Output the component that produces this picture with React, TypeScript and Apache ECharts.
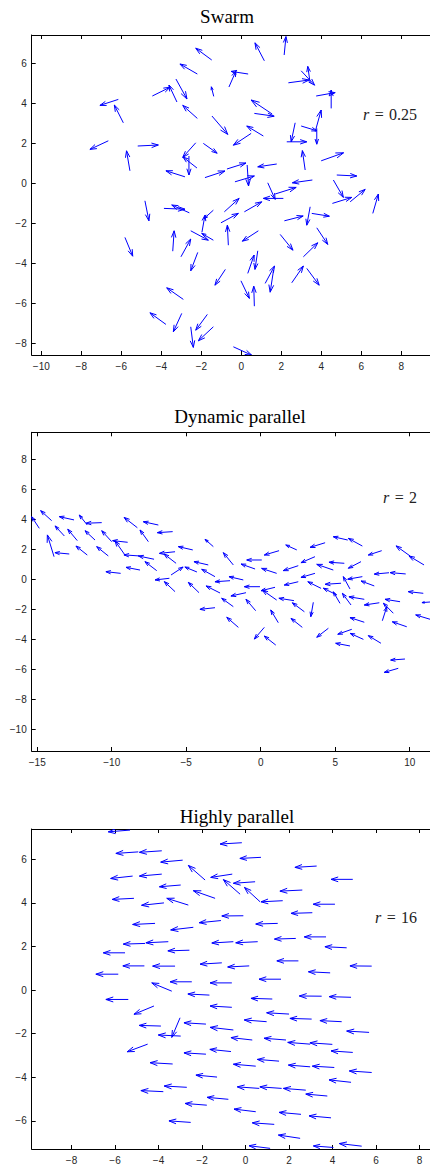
import React, { useEffect, useRef } from "react";
import * as echarts from "echarts";

// [x, y, u, v] : tail position and vector (data units)
const swarmArrows: number[][] = [
  [-1.48, 6.17, -0.8, 0.59], [-2.2, 5.47, -0.87, 0.5], [-4.45, 4.37, 0.89, 0.44], [-3.22, 4.07, -0.4, 0.85],
  [-3.27, 5.22, 0.55, -1.0], [-2.2, 3.25, -0.73, 0.65], [-6.15, 4.2, -0.92, -0.3], [-5.9, 3.03, -0.45, 0.89],
  [-6.65, 2.13, -0.92, -0.43], [-5.57, 0.63, -0.17, 1.0], [-5.18, 1.87, 1.03, 0.05], [-2.28, 2.03, -0.65, -0.73],
  [-2.62, 1.37, 0.0, -0.95], [-2.22, 0.77, -0.7, 0.55], [-2.82, 0.33, -0.95, 0.3], [-1.9, 2.0, 0.69, -0.49],
  [-1.38, 4.35, -0.12, 0.48], [1.15, 6.13, -0.47, 0.9], [2.14, 6.42, 0.09, 0.92], [-0.62, 4.82, 0.35, 0.8],
  [0.34, 5.47, -0.85, 0.13], [2.35, 5.03, 1.04, 0.14], [2.99, 5.63, 0.67, -0.72], [3.44, 5.02, -0.12, 0.83],
  [3.74, 4.37, 0.95, 0.17], [4.49, 3.75, 0.0, 0.92], [1.54, 3.47, -1.05, 0.7], [0.65, 3.5, 0.99, -0.14],
  [-1.47, 3.37, 0.79, -0.92], [1.1, 2.37, -0.83, 0.5], [0.49, 2.5, -0.89, -0.59], [2.69, 3.03, -0.2, -0.95],
  [2.27, 2.08, 1.0, 0.0], [2.99, 2.87, 0.79, -0.24], [3.69, 2.58, 0.3, 1.09], [3.77, 2.75, 0.0, -0.79],
  [3.19, 0.67, -0.14, 0.97], [3.99, 1.13, 1.12, 0.4], [4.77, 0.42, 1.0, -0.05], [1.77, 0.97, -0.95, -0.14],
  [-1.82, 0.29, 1.0, 0.33], [-0.72, 0.72, 0.95, 0.3], [0.29, 0.92, 0.07, -1.05], [-0.32, 0.08, 0.97, 0.29],
  [3.55, 0.17, -1.0, -0.14],
  [-4.82, -0.87, 0.2, -1.0], [-3.87, -1.25, 1.05, -0.04], [-2.6, -1.47, -0.88, 0.39], [-1.4, -1.34, -0.47, -0.42],
  [-1.97, -2.44, 0.15, 0.85], [-2.53, -2.37, 0.88, -0.47], [-1.4, -2.84, -0.58, 0.34], [-5.82, -2.7, 0.39, -0.94],
  [-3.43, -3.39, 0.07, 1.02], [-3.02, -3.67, 0.49, 0.89], [-2.18, -3.45, -0.35, -0.92], [-2.9, -5.8, -0.83, 0.58],
  [-3.77, -7.05, -0.8, 0.58], [-2.98, -6.5, -0.42, -0.92], [-1.7, -6.55, -0.58, -0.79], [-2.53, -7.17, 0.13, -1.03],
  [-1.4, -7.17, -0.75, -0.7],
  [1.32, 0.03, 0.37, -0.83], [2.1, -0.75, -1.0, 0.0], [1.69, -0.53, 1.05, 0.33], [4.6, 0.17, 0.5, -0.87],
  [4.55, -1.0, 0.97, 0.3], [5.44, -0.92, 0.75, 0.62], [6.57, -1.5, 0.28, 0.97], [-0.85, -1.42, 0.74, 0.67],
  [0.15, -1.42, 0.87, 0.5], [-1.02, -1.97, 0.87, 0.47], [2.15, -1.87, 0.94, 0.24], [3.44, -1.17, -0.17, -0.92],
  [3.52, -1.5, 0.88, -0.14], [0.85, -2.37, -0.8, -0.52], [-0.65, -3.09, -0.05, 1.0], [1.94, -2.55, 0.64, -0.79],
  [3.77, -2.22, 0.55, -0.83], [3.1, -3.67, 0.72, 0.7], [0.32, -4.5, 0.32, 0.92], [0.82, -3.37, -0.14, -0.93],
  [-0.8, -4.3, -0.52, -0.79], [-0.02, -4.87, 0.42, -0.88], [0.65, -6.14, -0.03, 1.0], [1.19, -5.0, 0.47, 0.87],
  [1.61, -4.34, -0.17, -1.1], [2.52, -4.97, 0.58, 0.84], [3.27, -4.25, 0.62, -0.84], [-0.4, -8.17, 0.92, -0.42],
];

const dynamicArrows: number[][] = [
  [-14.86, 3.41, -0.51, 0.77], [-14.03, 3.92, -0.74, 0.67], [-12.53, 3.97, -0.99, 0.22], [-11.64, 3.63, -0.54, 0.67],
  [-10.67, 3.79, -1.05, -0.04], [-13.18, 2.9, -0.62, 0.67], [-12.31, 2.59, -0.64, 0.76], [-11.12, 2.63, -0.67, 0.62],
  [-13.87, 1.52, -0.45, 1.45], [-12.85, 1.7, -0.96, 0.09], [-11.64, 1.63, -0.76, 0.6], [-10.23, 1.57, -0.78, 0.62],
  [-10.0, 2.52, -0.67, 0.73], [-8.93, 2.48, -1.01, 0.11], [-9.11, 1.63, -0.67, 0.95], [-8.28, 3.45, -0.89, 0.69],
  [-6.87, 3.63, -1.01, 0.22], [-5.91, 3.19, -1.03, -0.07], [-7.54, 2.52, -0.56, 0.78], [-8.15, 1.57, -1.03, 0.07],
  [-7.16, 1.35, -1.05, 0.22], [-5.75, 1.85, -1.05, -0.11], [-5.68, 1.08, -0.81, 0.62], [-4.56, 1.97, -0.97, 0.22],
  [-6.98, 0.59, -0.79, 0.6], [-8.1, 0.63, -0.94, 0.18], [-9.4, 0.41, -0.99, 0.11], [-6.02, 0.3, 0.81, 0.53],
  [-4.28, 0.5, -0.81, 0.33], [-3.52, 0.97, -0.96, 0.22], [-3.18, 2.19, -0.56, 0.49], [-3.07, 0.19, -0.89, 0.49],
  [-6.13, 0.08, -0.96, -0.11], [-5.75, -0.81, -0.72, 0.67], [-4.14, -0.88, -0.72, 0.69], [-2.73, -0.9, -0.94, 0.47],
  [-3.07, -1.88, -1.01, -0.11],
  [2.42, 1.97, -0.74, 0.33], [4.32, 2.45, -1.01, -0.31], [1.23, 1.92, -0.99, -0.29], [0.07, 1.3, -1.01, 0.0],
  [-1.84, 0.97, -0.67, 0.82], [-0.38, 0.7, -0.94, 0.33], [1.07, 0.41, -1.01, 0.33], [2.52, 0.92, -1.01, -0.33],
  [3.64, 1.52, -0.94, -0.4], [4.87, 0.63, -1.11, 0.38], [5.61, 1.08, -1.03, 0.07], [6.73, 1.19, -0.85, -0.44],
  [5.84, 2.63, -0.97, 0.22], [6.82, 2.23, -0.94, 0.51], [8.12, 1.92, -0.9, -0.29], [10.96, 0.97, -1.01, 0.6],
  [10.02, 1.57, -0.94, 0.67], [9.73, 0.37, -1.05, 0.09], [8.61, 0.45, -0.99, -0.09], [3.64, 0.41, -0.94, -0.27],
  [-1.17, -0.03, -0.96, 0.22], [-2.06, -0.08, -1.01, -0.07], [-0.05, -0.48, -1.05, 0.0], [0.96, -0.52, -0.94, -0.23],
  [1.07, -1.37, -0.97, 0.67], [2.52, -0.15, -0.94, -0.22], [4.05, -0.59, -0.89, 0.44], [5.39, -0.25, -1.07, -0.07],
  [5.99, -0.63, -0.45, 0.82], [6.82, 0.19, -0.98, -0.17], [7.62, -0.43, -0.89, 0.33], [10.91, -0.92, -1.01, 0.11],
  [11.36, -1.5, -0.54, -0.04], [11.36, -2.65, -0.96, 0.29], [-0.99, -0.88, -1.01, -0.22], [-1.84, -1.81, -0.78, 0.56],
  [-0.34, -2.08, -0.65, 0.76], [2.23, -1.41, -1.01, 0.16], [2.93, -2.15, -0.81, 0.6], [3.53, -1.52, -0.17, -0.96],
  [5.1, -1.03, -0.9, 0.45], [5.32, -1.59, -0.45, 0.77], [6.06, -1.7, -0.58, 0.78], [6.95, -1.32, -1.03, 0.17],
  [7.96, -1.55, -1.01, -0.15], [9.35, -1.48, -1.01, 0.16], [8.9, -2.25, -0.67, 0.67], [8.16, -2.75, 0.3, 0.93],
  [-1.5, -3.19, -0.78, 0.67], [1.18, -2.88, -0.51, 0.85], [2.79, -3.19, -0.76, 0.6], [6.95, -2.85, -0.96, 0.31],
  [9.8, -3.15, -0.97, 0.33], [0.24, -3.19, -0.67, -0.78], [1.01, -4.37, -0.77, 0.6], [4.54, -3.25, -0.78, -0.6],
  [6.11, -3.32, -0.94, -0.33], [6.89, -3.99, -0.89, 0.4], [8.07, -4.25, -0.85, 0.51], [5.99, -4.43, -0.96, 0.18],
  [9.68, -5.3, -0.96, -0.07], [9.23, -5.92, -0.94, -0.27],
];

const parallelArrows: number[][] = [
  [-5.31, 7.34, -1.0, -0.08], [-4.93, 6.34, -1.03, -0.07], [-3.85, 6.39, -1.03, -0.07], [-2.89, 5.96, -1.01, -0.09],
  [-5.19, 5.23, -1.01, -0.11], [-3.85, 5.32, -1.03, -0.09], [-1.86, 5.05, -0.77, 0.67], [-2.98, 4.82, -0.98, -0.08],
  [-5.13, 4.21, -1.0, -0.05], [-3.75, 4.0, -1.03, -0.11], [-2.63, 3.9, -0.99, 0.31], [-1.4, 4.21, -1.0, 0.35],
  [-4.16, 3.06, -1.03, -0.05], [-2.4, 2.88, -1.04, -0.12], [-1.13, 3.19, -1.0, -0.1], [-4.62, 2.14, -1.0, -0.03],
  [-3.55, 2.22, -1.03, -0.05], [-0.56, 2.22, -0.99, -0.06], [-5.54, 1.71, -1.0, 0.0], [-2.58, 1.83, -0.99, -0.03],
  [-4.65, 1.11, -0.99, 0.0], [-3.24, 1.1, -1.03, 0.0], [-1.09, 1.25, -1.0, -0.06], [-5.85, 0.73, -1.03, 0.0],
  [-0.17, 6.76, -1.0, -0.06], [0.71, 6.09, -0.97, -0.05], [3.27, 5.69, -1.0, -0.06], [4.93, 5.08, -1.0, 0.0],
  [-0.61, 5.32, -0.99, -0.15], [0.44, 4.97, -1.0, -0.07], [-0.25, 4.4, -0.77, 0.67], [0.67, 4.05, -0.72, 0.66],
  [1.71, 4.1, -1.0, -0.05], [2.61, 4.59, -1.03, -0.05], [4.11, 3.94, -1.0, 0.0], [3.07, 3.55, -0.98, -0.03],
  [-0.1, 3.41, -0.99, -0.01], [1.48, 3.06, -1.01, -0.03], [2.31, 2.37, -0.98, -0.03], [3.7, 2.44, -1.0, 0.0],
  [4.65, 1.94, -1.0, 0.05], [0.56, 2.22, -1.01, -0.05], [2.43, 1.34, -0.99, 0.0], [5.8, 1.1, -1.0, 0.01],
  [0.17, 1.11, -0.99, -0.05], [3.89, 0.79, -1.0, 0.05], [1.63, 0.5, -1.01, 0.0],
  [-2.47, 0.38, -1.0, 0.0], [-0.63, 0.33, -1.0, 0.0], [-3.39, -0.05, -0.92, 0.38], [-1.66, -0.23, -0.99, 0.05],
  [-5.39, -0.43, -1.03, 0.0], [-4.21, -0.73, -0.92, -0.38], [-0.63, -0.79, -1.0, 0.06], [-3.89, -1.65, -1.0, 0.03],
  [-1.82, -1.56, -1.01, 0.06], [-3.01, -1.27, -0.38, -0.9], [-2.98, -2.11, -1.03, 0.05], [-0.56, -1.83, -1.07, 0.12],
  [-4.5, -2.48, -0.94, -0.35], [-1.82, -2.94, -1.01, 0.06], [-0.67, -2.82, -0.97, 0.1], [-3.35, -3.39, -1.04, 0.06],
  [-1.31, -3.99, -0.97, 0.09], [-2.7, -4.46, -1.04, 0.06], [-3.78, -4.66, -1.03, 0.05], [-0.79, -5.01, -0.98, 0.09],
  [-1.78, -5.28, -1.0, 0.08], [-2.52, -6.07, -1.0, 0.07],
  [1.23, -0.41, -0.98, 0.03], [3.5, -0.28, -1.03, 0.01], [4.85, -0.33, -1.01, 0.03], [2.0, -1.1, -1.03, 0.06],
  [0.97, -1.45, -1.03, 0.08], [3.04, -1.33, -1.0, 0.03], [4.42, -1.45, -1.0, 0.05], [5.68, -1.94, -1.03, 0.06],
  [0.31, -2.29, -0.98, 0.11], [1.86, -2.29, -1.01, 0.08], [2.97, -2.48, -1.03, 0.08], [3.99, -2.49, -1.03, 0.07],
  [4.93, -2.86, -1.0, 0.07], [0.47, -3.49, -1.03, 0.09], [1.54, -3.26, -1.0, 0.08], [2.97, -3.52, -1.0, 0.08],
  [4.08, -3.55, -1.01, 0.06], [5.8, -3.78, -1.03, 0.07], [4.85, -4.23, -1.01, 0.11], [0.63, -4.51, -1.01, 0.07],
  [1.66, -4.51, -1.0, 0.07], [2.77, -4.59, -1.03, 0.08], [3.76, -4.86, -0.99, 0.09], [0.47, -5.58, -1.0, 0.12],
  [2.55, -5.7, -1.01, 0.09], [3.93, -5.86, -1.01, 0.09], [1.32, -6.16, -1.01, 0.07], [2.51, -6.8, -1.0, 0.15],
  [1.13, -7.26, -0.97, 0.12], [4.04, -7.22, -0.92, 0.07], [5.34, -7.16, -1.03, 0.12],
];

const titles = ["Swarm", "Dynamic parallel", "Highly parallel"];
const rLabels = ["0.25", "2", "16"];

const swarmXTicks = [-10, -8, -6, -4, -2, 0, 2, 4, 6, 8];
const swarmYTicks = [-8, -6, -4, -2, 0, 2, 4, 6];
const dynXTicks = [-15, -10, -5, 0, 5, 10];
const dynYTicks = [-10, -8, -6, -4, -2, 0, 2, 4, 6, 8];
const parXTicks = [-8, -6, -4, -2, 0, 2, 4, 6, 8];
const parYTicks = [-6, -4, -2, 0, 2, 4, 6];

const swarmRange = { xMin: -10.48, xMax: 9.43, yMin: -8.58, yMax: 7.42 };
const dynRange = { xMin: -15.37, xMax: 11.36, yMin: -11.43, yMax: 9.81 };
const parRange = { xMin: -9.83, xMax: 8.48, yMin: -7.29, yMax: 7.39 };

const BLUE = "#0000ff";
const fmt = (v: number) => (v < 0 ? "\u2212" + Math.abs(v) : String(v));

const renderArrow = (params: any, api: any) => {
  const x = api.value(0), y = api.value(1), u = api.value(2), v = api.value(3);
  const p0 = api.coord([x, y]);
  const p1 = api.coord([x + u, y + v]);
  const dx = p1[0] - p0[0], dy = p1[1] - p0[1];
  const bx = p1[0] - 0.33 * dx, by = p1[1] - 0.33 * dy;
  const w = 0.11;
  const b1 = [bx - w * dy, by + w * dx];
  const b2 = [bx + w * dy, by - w * dx];
  return {
    type: "group",
    children: [
      { type: "line", shape: { x1: p0[0], y1: p0[1], x2: p1[0], y2: p1[1] }, style: { stroke: BLUE, lineWidth: 1, fill: null } },
      { type: "polyline", shape: { points: [b1, [p1[0], p1[1]], b2] }, style: { stroke: BLUE, lineWidth: 1, fill: null } },
    ],
  };
};

export default function App() {
  const ref = useRef<HTMLDivElement>(null);
  useEffect(() => {
    if (!ref.current) return;
    const chart = echarts.init(ref.current, null, { renderer: "svg" });
    const grids = [
      { left: 31.7, top: 35, width: 398.3, height: 320 },
      { left: 31.7, top: 432.3, width: 398.3, height: 318.7 },
      { left: 31.7, top: 829, width: 398.3, height: 320 },
    ];
    const ranges = [swarmRange, dynRange, parRange];
    const xt = [swarmXTicks, dynXTicks, parXTicks];
    const yt = [swarmYTicks, dynYTicks, parYTicks];
    const data = [swarmArrows, dynamicArrows, parallelArrows];
    const axisLine = { show: true, onZero: false, lineStyle: { color: "#000", width: 1 } };
    const labelStyle = { color: "#262626", fontSize: 10, fontFamily: "Liberation Sans, Arial, sans-serif" };
    const xAxis: any[] = [];
    const yAxis: any[] = [];
    const series: any[] = [];
    for (let i = 0; i < 3; i++) {
      const r = ranges[i];
      xAxis.push({
        type: "value", gridIndex: i, position: "bottom", min: r.xMin, max: r.xMax,
        axisLine, splitLine: { show: false },
        axisTick: { show: true, inside: true, length: 4, customValues: xt[i], lineStyle: { color: "#000" } },
        axisLabel: { show: true, customValues: xt[i], formatter: fmt, margin: 6, ...labelStyle },
      });
      xAxis.push({
        type: "value", gridIndex: i, position: "top", min: r.xMin, max: r.xMax,
        axisLine, splitLine: { show: false },
        axisTick: { show: true, inside: true, length: 4, customValues: xt[i], lineStyle: { color: "#000" } },
        axisLabel: { show: false, customValues: xt[i] },
      });
      yAxis.push({
        type: "value", gridIndex: i, position: "left", min: r.yMin, max: r.yMax,
        axisLine, splitLine: { show: false },
        axisTick: { show: true, inside: true, length: 4, customValues: yt[i], lineStyle: { color: "#000" } },
        axisLabel: { show: true, customValues: yt[i], formatter: fmt, margin: 5, ...labelStyle },
      });
      series.push({
        type: "custom", xAxisIndex: 2 * i, yAxisIndex: i, clip: true,
        data: data[i], encode: { x: 0, y: 1 }, renderItem: renderArrow, silent: true,
      });
    }
    const titleX = [227, 240, 237];
    const titleY = [16.5, 416.5, 816.5];
    const rY = [114.5, 497.5, 917.5];
    const graphic: any[] = [];
    for (let i = 0; i < 3; i++) {
      graphic.push({
        type: "text", x: titleX[i], y: titleY[i],
        style: { text: titles[i], fontFamily: "Liberation Serif, Times New Roman, serif", fontSize: 19, fill: "#000", align: "center", verticalAlign: "middle" },
      });
      graphic.push({
        type: "text", x: 417, y: rY[i],
        style: {
          text: "{i|r}\u2004=\u2004" + rLabels[i],
          rich: { i: { fontStyle: "italic", fontFamily: "Liberation Serif, serif", fontSize: 16, fill: "#222" } },
          fontFamily: "Liberation Serif, serif", fontSize: 16, fill: "#222", align: "right", verticalAlign: "middle",
        },
      });
    }
    chart.setOption({
      animation: false,
      backgroundColor: "#fff",
      grid: grids,
      xAxis, yAxis, series, graphic,
    });
    return () => chart.dispose();
  }, []);
  return <div ref={ref} style={{ position: "absolute", left: 0, top: 0, width: 430, height: 1167 }} />;
}
